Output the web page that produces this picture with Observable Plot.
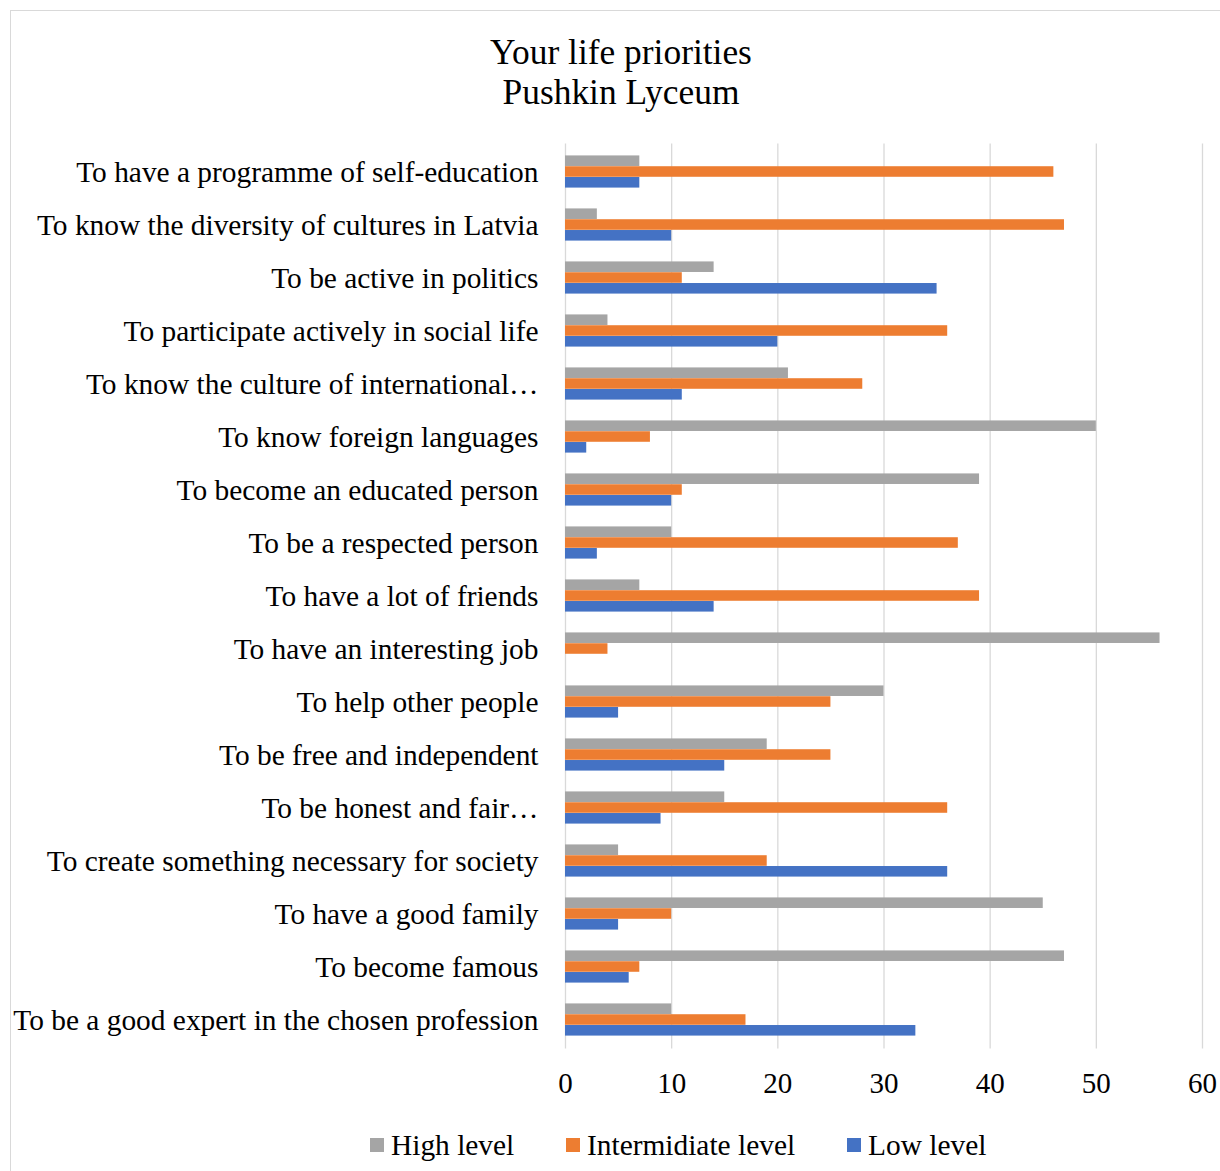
<!DOCTYPE html>
<html><head><meta charset="utf-8">
<script src="https://cdn.jsdelivr.net/npm/d3@7"></script>
<script src="https://cdn.jsdelivr.net/npm/@observablehq/plot@0.6"></script>
<style>
body{margin:0;background:#fff;font-family:"Liberation Serif","Times New Roman",serif;color:#000;width:1220px;height:1171px;overflow:hidden;position:relative;}
#frame{position:absolute;left:10px;top:10px;width:1400px;height:1400px;border:1px solid #d9d9d9;box-sizing:border-box;}
#title{position:absolute;left:0;width:1242px;top:32px;text-align:center;font-size:35.4px;line-height:40px;}
#chart{position:absolute;left:0;top:0;}
#legend{position:absolute;left:370px;top:1126px;display:flex;align-items:center;font-size:29.4px;line-height:38px;}
.item{display:flex;align-items:center;}
.sw{width:14px;height:14px;margin-right:7px;}
</style></head>
<body>
<div id="frame"></div>
<div id="title">Your life priorities<br>Pushkin Lyceum</div>
<div id="chart"></div>
<div id="legend"></div>
<script>
const categories = [
  "To have a programme of self-education",
  "To know the diversity of cultures in Latvia",
  "To be active in politics",
  "To participate actively in social life",
  "To know the culture of international…",
  "To know foreign languages",
  "To become an educated person",
  "To be a respected person",
  "To have a lot of friends",
  "To have an interesting job",
  "To help other people",
  "To be free and independent",
  "To be honest and fair…",
  "To create something necessary for society",
  "To have a good family",
  "To become famous",
  "To be a good expert in the chosen profession"
];
const seriesNames = ["High level", "Intermidiate level", "Low level"];
const seriesColors = ["#a5a5a5", "#ed7d31", "#4472c4"];
const high         = [7, 3, 14, 4, 21, 50, 39, 10, 7, 56, 30, 19, 15, 5, 45, 47, 10];
const intermediate = [46, 47, 11, 36, 28, 8, 11, 37, 39, 4, 25, 25, 36, 19, 10, 7, 17];
const low          = [7, 10, 35, 20, 11, 2, 10, 3, 14, 0, 5, 15, 9, 36, 5, 6, 33];
const xTicks = [0, 10, 20, 30, 40, 50, 60];

const seriesValues = [high, intermediate, low];
const rows = seriesValues.map((vals, s) => categories.map((c, i) => ({cat: c, value: vals[i], series: seriesNames[s]})));

const H = 1110, plotTop = 143.5, plotBottom = 1048.5;
const barH = 10.8;
const step = (plotBottom - plotTop) / categories.length;
const inset = (step - barH) / 2;
const offsets = [-barH, 0, barH];

const plot = Plot.plot({
  width: 1220,
  height: H,
  marginTop: plotTop,
  marginBottom: H - plotBottom,
  marginLeft: 565,
  marginRight: 18,
  style: {fontFamily: '"Liberation Serif","Times New Roman",serif', color: "#000", background: "transparent", overflow: "visible"},
  x: {domain: [0, 60]},
  y: {domain: categories, padding: 0},
  marks: [
    Plot.gridX(xTicks, {stroke: "#d9d9d9", strokeOpacity: 1, strokeWidth: 1.3}),
    ...rows.map((r, s) => Plot.barX(r, {x: "value", y: "cat", fill: seriesColors[s], insetTop: inset, insetBottom: inset, dy: offsets[s] - 1})),
    Plot.axisX(xTicks, {tickSize: 0, tickPadding: 23, fontSize: 29, label: null}),
    Plot.axisY({tickSize: 0, tickPadding: 27, fontSize: 29.4, label: null})
  ]
});
document.getElementById("chart").appendChild(plot);

const legendWidths = [196, 281, 200];
const legend = document.getElementById("legend");
seriesNames.forEach((n, i) => {
  const it = document.createElement("div"); it.className = "item"; it.style.width = legendWidths[i] + "px";
  const sw = document.createElement("div"); sw.className = "sw"; sw.style.background = seriesColors[i];
  const tx = document.createElement("span"); tx.textContent = n;
  it.appendChild(sw); it.appendChild(tx); legend.appendChild(it);
});
</script>
</body></html>
